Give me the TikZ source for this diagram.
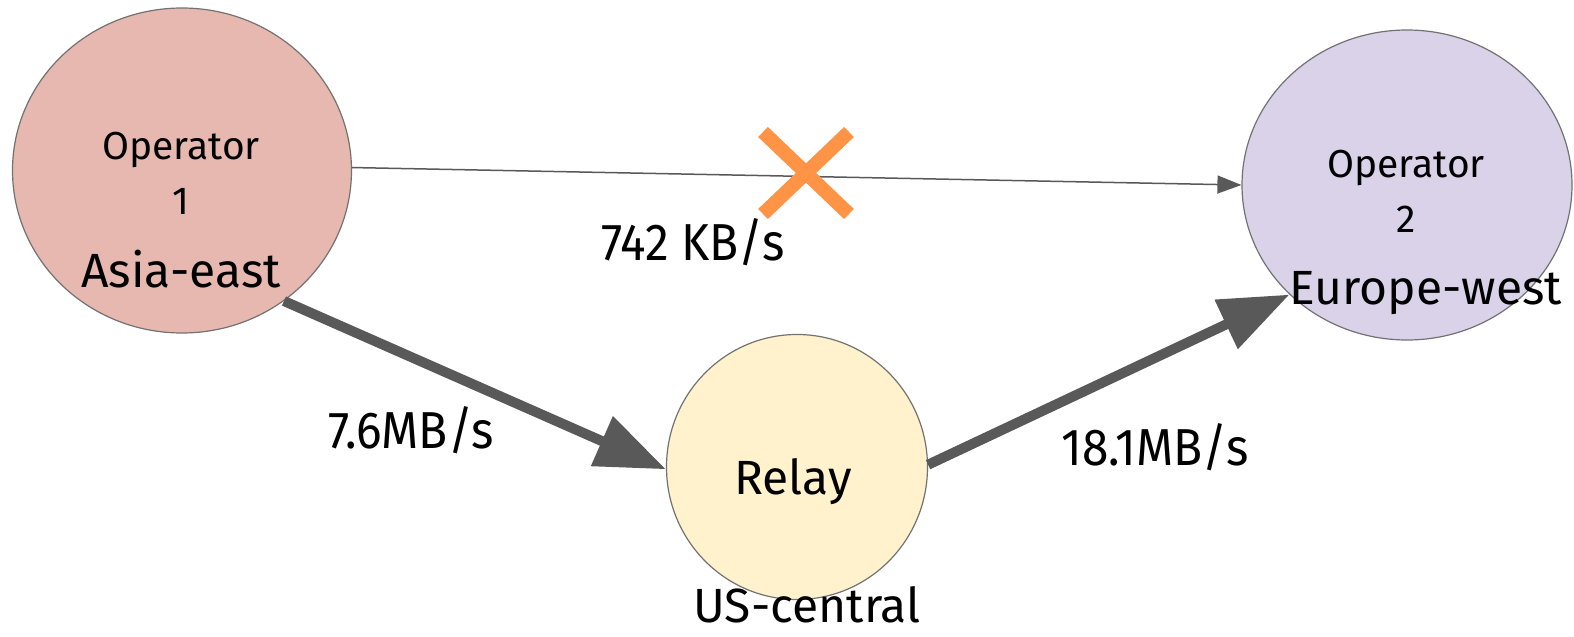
\documentclass[tikz,border=0pt]{standalone}
\usepackage{fontspec}
\setmainfont{Fira Sans}
\usetikzlibrary{shapes.geometric,arrows.meta}
\definecolor{opone}{HTML}{E6B8AF}
\definecolor{optwo}{HTML}{D9D2E9}
\definecolor{relayfill}{HTML}{FFF2CC}
\definecolor{edgegray}{HTML}{595959}
\definecolor{crossorange}{HTML}{FF9447}
\newcommand{\narrowtext}[1]{\scalebox{0.92}[1]{#1}}
\tikzset{
  site/.style={ellipse, draw=edgegray!85, line width=0.6pt, inner sep=0pt},
  small/.style={font=\fontsize{19.5}{22}\selectfont, inner sep=0pt},
  big/.style={font=\fontsize{24}{28}\selectfont, inner sep=0pt},
  thinlink/.style={draw=edgegray, line width=0.75pt,
    -{Triangle[length=12pt,width=9pt]}},
  thicklink/.style={draw=edgegray, line width=5pt,
    -{Triangle[length=35pt,width=26pt]}},
  rate/.style={font=\fontsize{26}{30}\selectfont, inner sep=0pt},
}
\begin{document}
\begin{tikzpicture}[x=0.5pt,y=-0.5pt]
  \useasboundingbox (0,0) rectangle (1574,637);
  \fill[white] (0,0) rectangle (1574,637);

  % sites
  \node[site, fill=opone, minimum width=339pt*0.5, minimum height=325pt*0.5] (op1) at (182,170.5) {};
  \node[site, fill=optwo, minimum width=330pt*0.5, minimum height=310pt*0.5] (op2) at (1407,185) {};
  \node[site, fill=relayfill, minimum width=261pt*0.5, minimum height=265pt*0.5] (relay) at (797,467) {};

  % site labels
  \node[small] (op1a) at (181,150) {Operator};
  \node[small] (op1b) at (181,201) {1};
  \node[big]   (op1c) at (181,269) {Asia-east};
  \node[small] (op2a) at (1406,168) {Operator};
  \node[small] (op2b) at (1406,219) {2};
  \node[big]   (op2c) at (1426,293) {Europe-west};
  \node[big]   (relayname) at (793,482) {Relay};
  \node[big]   (relayloc) at (807,605) {US-central};

  % links
  \draw[thinlink] (op1.1) -- (op2.180.5);
  \draw[thicklink] (op1.-52) -- (relay.181);
  \draw[thicklink] (relay.1) -- (op2.223);

  % rates
  \node[rate] (r1) at (693,242) {\narrowtext{742 KB/s}};
  \node[rate] (r2) at (411,430) {\narrowtext{7.6MB/s}};
  \node[rate] (r3) at (1155,447) {\narrowtext{18.1MB/s}};

  % blocked direct path
  \coordinate (xc) at (806,173);
  \draw[crossorange, line width=7pt] ([shift={(-43,-41)}]xc) -- ([shift={(43,41)}]xc);
  \draw[crossorange, line width=7pt] ([shift={(-43,41)}]xc) -- ([shift={(43,-41)}]xc);
\end{tikzpicture}
\end{document}
